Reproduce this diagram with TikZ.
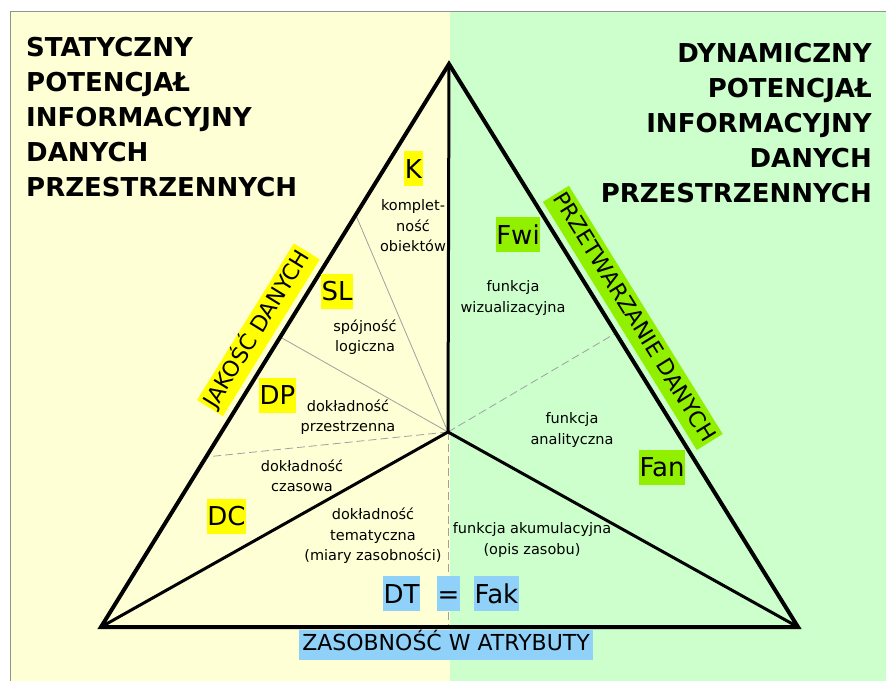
\documentclass[tikz,border=0pt]{standalone}
\usepackage{fontspec}
\setmainfont{DejaVu Sans}
\usetikzlibrary{calc}

\definecolor{paneS}{RGB}{255,255,213}
\definecolor{paneD}{RGB}{204,255,204}
\definecolor{frameGray}{RGB}{140,150,140}
\definecolor{tagYellow}{RGB}{255,255,0}
\definecolor{tagGreen}{RGB}{145,240,0}
\definecolor{tagBlue}{RGB}{143,209,248}
\definecolor{splitGray}{RGB}{160,160,160}

\tikzset{
  heading/.style={font=\bfseries\fontsize{26}{35}\selectfont, inner sep=0pt},
  lbl/.style={font=\fontsize{14.5}{20.5}\selectfont, align=center, inner sep=0pt},
  tagbox/.style={font=\fontsize{26}{26}\selectfont, inner xsep=0.5pt, inner ysep=8pt,
                 text height=19pt, text depth=0pt},
  tagY/.style={tagbox, fill=tagYellow},
  tagG/.style={tagbox, fill=tagGreen},
  tagB/.style={tagbox, fill=tagBlue},
  band/.style={font=\fontsize{22}{22}\selectfont, inner xsep=2pt, inner ysep=5pt,
               text height=16pt, text depth=4.5pt},
  outer/.style={line width=4pt, line join=miter},
  inner/.style={line width=3pt},
  split/.style={draw=splitGray, line width=0.8pt},
  splitdash/.style={split, dash pattern=on 8pt off 4pt},
}

\begin{document}
\begin{tikzpicture}[x=1pt,y=-1pt]
\useasboundingbox (0,0) rectangle (886,681);
\fill[white] (0,0) rectangle (886,681);
% two background panes
\fill[paneS] (10,11) rectangle (450,681);
\fill[paneD] (450,11) rectangle (886,681);
\draw[frameGray, line width=1pt] (10,681) -- (10,11) -- (886,11);

% headings
\node[heading, anchor=north west, align=left] (hs) at (26,37)
  {STATYCZNY\\POTENCJAŁ\\INFORMACYJNY\\DANYCH\\PRZESTRZENNYCH};
\node[heading, anchor=north east, align=right] (hd) at (872,43)
  {DYNAMICZNY\\POTENCJAŁ\\INFORMACYJNY\\DANYCH\\PRZESTRZENNYCH};

% triangle corners and the inner centre
\coordinate (A) at (449,64);
\coordinate (L) at (101,627);
\coordinate (R) at (798,627);
\coordinate (C) at (448,432);
\coordinate (B) at (448,627);

% points on the sides where the thin dividers end
\coordinate (pK) at ($(A)!0.268!(L)$);
\coordinate (pS) at ($(A)!0.485!(L)$);
\coordinate (pD) at ($(A)!0.698!(L)$);
\coordinate (pF) at ($(A)!0.478!(R)$);

% thin dividers
\draw[split] (C) -- (pK);
\draw[split] (C) -- (pS);
\draw[splitdash] (C) -- (pD);
\draw[splitdash] (C) -- (pF);
\draw[splitdash] (C) -- (B);

% inner thick lines
\draw[inner] (A) -- (C);
\draw[inner] (C) -- (L);
\draw[inner] (C) -- (R);

% outer triangle
\draw[outer] (A) -- (L) -- (R) -- cycle;

% side bands
\path (L) -- (A) node[band, fill=tagYellow, sloped, pos=0.507, above=7pt] (jd) {JAKOŚĆ DANYCH};
\path (A) -- (R) node[band, fill=tagGreen, sloped, pos=0.472, above=7pt] (pd) {PRZETWARZANIE DANYCH};
\node[band, fill=tagBlue, inner xsep=3pt] (za) at (446,645) {ZASOBNOŚĆ W ATRYBUTY};

% left half: data quality
\node[tagY] (tK) at (413.5,168.5) {K};
\node[lbl] (lK) at (413,226) {komplet-\\ność\\obiektów};
\node[tagY] (tSL) at (337,291) {SL};
\node[lbl] (lSL) at (365,337) {spójność\\logiczna};
\node[tagY] (tDP) at (277.5,395) {DP};
\node[lbl] (lDP) at (348,417) {dokładność\\przestrzenna};
\node[lbl] (lDC) at (302,476) {dokładność\\czasowa};
\node[tagY] (tDC) at (226.5,516) {DC};
\node[lbl] (lDT) at (373,536) {dokładność\\tematyczna\\(miary zasobności)};

% bottom: DT = Fak
\node[tagB] (tDT) at (401.5,593.5) {DT};
\node[tagB] (tEq) at (448.5,593.5) {=};
\node[tagB] (tFak) at (496.5,593.5) {Fak};

% right half: data processing
\node[tagG] (tFwi) at (518,234.5) {Fwi};
\node[lbl] (lFwi) at (513,298) {funkcja\\wizualizacyjna};
\node[lbl] (lFan) at (572,430) {funkcja\\analityczna};
\node[tagG] (tFan) at (662,467) {Fan};
\node[lbl] (lFak) at (532,540) {funkcja akumulacyjna\\(opis zasobu)};
\end{tikzpicture}
\end{document}
